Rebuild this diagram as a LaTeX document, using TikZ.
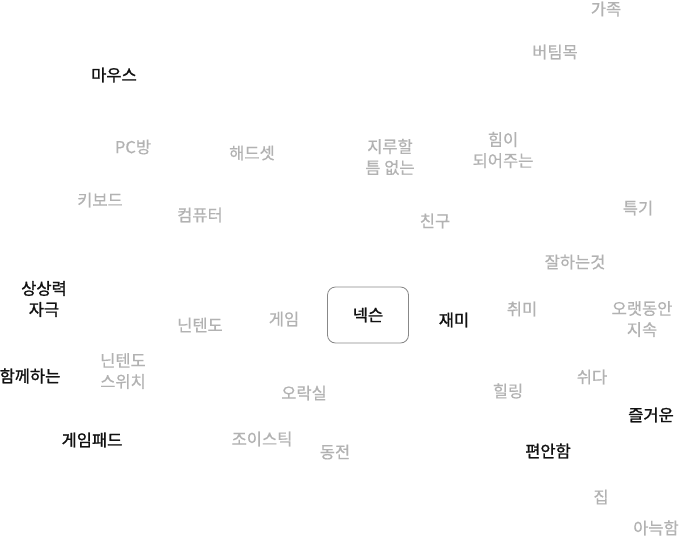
\documentclass[tikz,border=0pt]{standalone}
\usepackage{fontspec}
\setmainfont{Noto Sans CJK KR}
\newfontfamily\lightfont[FakeBold=0.4]{Noto Sans CJK KR}
\newfontfamily\darkfont[FakeBold=1.2]{Noto Sans CJK KR}
\definecolor{lightw}{HTML}{B2B2B2}
\definecolor{darkw}{HTML}{111111}
\definecolor{boxline}{HTML}{888888}
\begin{document}
\begin{tikzpicture}[x=1pt,y=-1pt,
  wd/.style={font=\darkfont\fontsize{16.5}{21}\selectfont,text=darkw,align=center,inner sep=0pt},
  wl/.style={font=\lightfont\fontsize{16.5}{21}\selectfont,text=lightw,align=center,inner sep=0pt},
  core/.style={draw=boxline,rounded corners=8pt,minimum width=81pt,minimum height=56pt,font=\darkfont\fontsize{16.5}{21}\selectfont,text=darkw,line width=0.8pt}]
\useasboundingbox[fill=white] (0,0) rectangle (679,538);
\node[core] (nexon) at (368,315) {넥슨};
\node[wl] (gajok) at (606,9) {가족};
\node[wl] (beotim) at (555,52) {버팀목};
\node[wd] (mouse) at (114,75) {마우스};
\node[wl] (pcbang) at (133,147) {PC방};
\node[wl] (headset) at (252,153) {해드셋};
\node[wl] (jiru) at (390,157) {지루할\\틈 없는};
\node[wl] (him) at (503,150) {힘이\\되어주는};
\node[wl] (keyboard) at (100,200) {키보드};
\node[wl] (computer) at (200,215) {컴퓨터};
\node[wl] (chingu) at (435,221) {친구};
\node[wl] (teukgi) at (638,208) {특기};
\node[wl] (jalha) at (575,262) {잘하는것};
\node[wd] (sangsang) at (44,299) {상상력\\자극};
\node[wl] (nintendo) at (200,325) {닌텐도};
\node[wl] (game) at (284,319) {게임};
\node[wd] (jaemi) at (454,320) {재미};
\node[wl] (chwimi) at (522,309) {취미};
\node[wl] (orae) at (642,319) {오랫동안\\지속};
\node[wd] (hamkke) at (30,376) {함께하는};
\node[wl] (switch) at (123,371) {닌텐도\\스위치};
\node[wl] (orak) at (304,393) {오락실};
\node[wl] (healing) at (508,391) {힐링};
\node[wl] (swida) at (592,377) {쉬다};
\node[wd] (jeulgeo) at (651,415) {즐거운};
\node[wd] (gamepad) at (92,440) {게임패드};
\node[wl] (joystick) at (262,439) {조이스틱};
\node[wl] (dongjeon) at (335,452) {동전};
\node[wd] (pyeonan) at (548,451) {편안함};
\node[wl] (jip) at (601,497) {집};
\node[wl] (aneuk) at (656,528) {아늑함};
\end{tikzpicture}
\end{document}
